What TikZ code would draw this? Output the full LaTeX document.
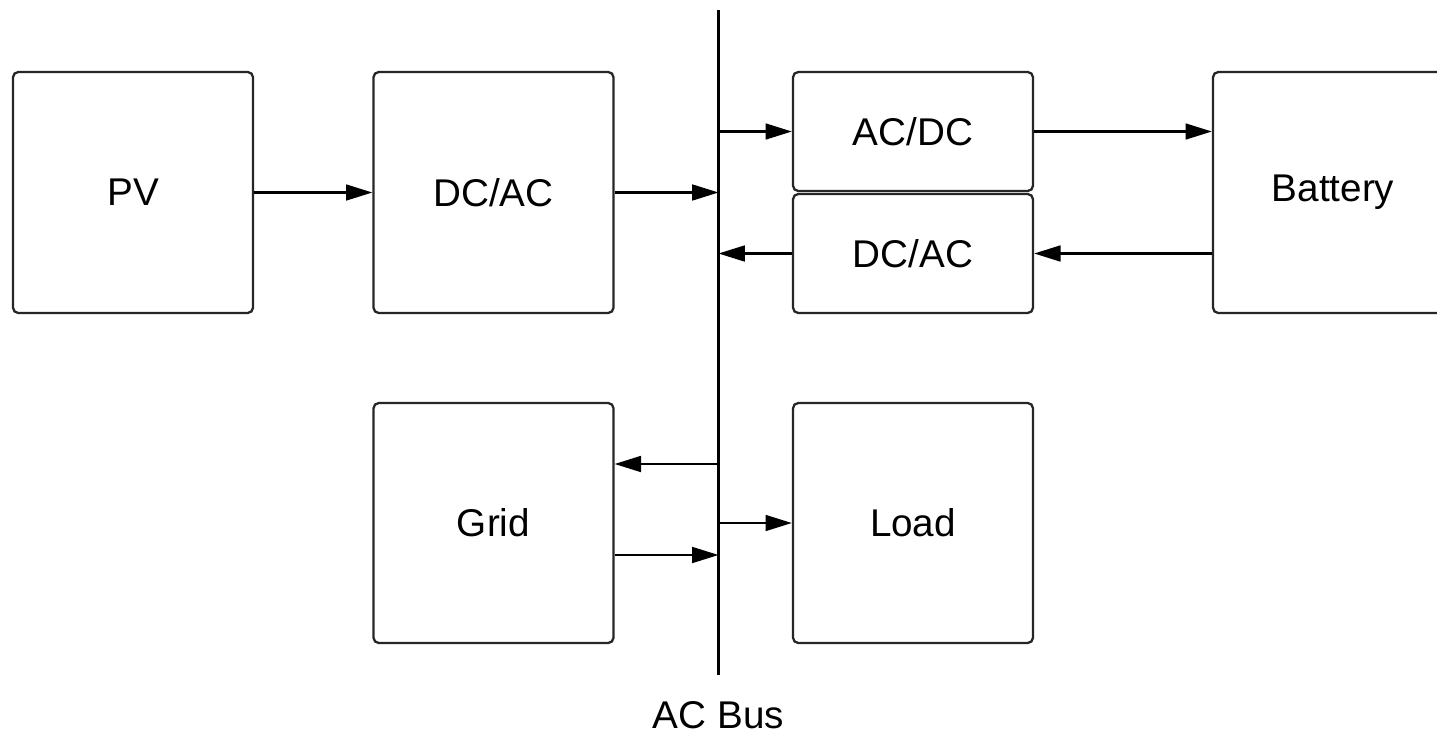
\documentclass[tikz,border=0pt]{standalone}
\usepackage{fontspec}
\setmainfont{Liberation Sans}
\usepackage{tikz}
\usetikzlibrary{arrows.meta,positioning,calc}

\begin{document}
\begin{tikzpicture}[font=\fontsize{22}{26}\selectfont,
    blockbox/.style={draw=black!85, line width=1.3pt, rounded corners=3pt,
      minimum width=4.8cm, minimum height=4.82cm, inner sep=0pt},
    halfbox/.style={blockbox, minimum height=2.38cm},
    flow/.style={line width=1.3pt, -{Triangle[length=15pt, width=9pt]}}]
    \clip (0,0) rectangle (28.74,-14.66);
    % top row
    \node[blockbox] (pv) at (2.66,-3.85) {PV};
    \node[blockbox] (dcac) at (9.87,-3.85) {DC/AC};
    \node[halfbox] (acdc) at (18.26,-2.63) {AC/DC};
    \node[halfbox] (dcacb) at (18.26,-5.07) {DC/AC};
    \node[blockbox] (batt) at (26.66,-3.85) {Battery};
    % bottom row
    \node[blockbox, minimum height=4.8cm] (grid) at (9.87,-10.46) {Grid};
    \node[blockbox, minimum height=4.8cm] (load) at (18.26,-10.46) {Load};
    % AC bus
    \coordinate (bustop) at (14.37,-0.2);
    \coordinate (busbot) at (14.37,-13.5);
    \draw[line width=1.3pt] (bustop) -- (busbot);
    \node[inner sep=0pt] (buslabel) at (14.37,-14.3) {AC Bus};
    \draw[flow] (pv) -- (dcac);
    \draw[flow] (dcac.east) -- (dcac.east -| bustop);
    \draw[flow] (acdc.west -| bustop) -- (acdc.west);
    \draw[flow] (acdc.east) -- (acdc.east -| batt.west);
    \draw[flow] (dcacb.east -| batt.west) -- (dcacb.east);
    \draw[flow] (dcacb.west) -- (dcacb.west -| bustop);
    \draw[flow] ([yshift=1.18cm]grid.east -| bustop) -- ([yshift=1.18cm]grid.east);
    \draw[flow] ([yshift=-0.64cm]grid.east) -- ([yshift=-0.64cm]grid.east -| bustop);
    \draw[flow] (load.west -| bustop) -- (load.west);
\end{tikzpicture}
\end{document}
